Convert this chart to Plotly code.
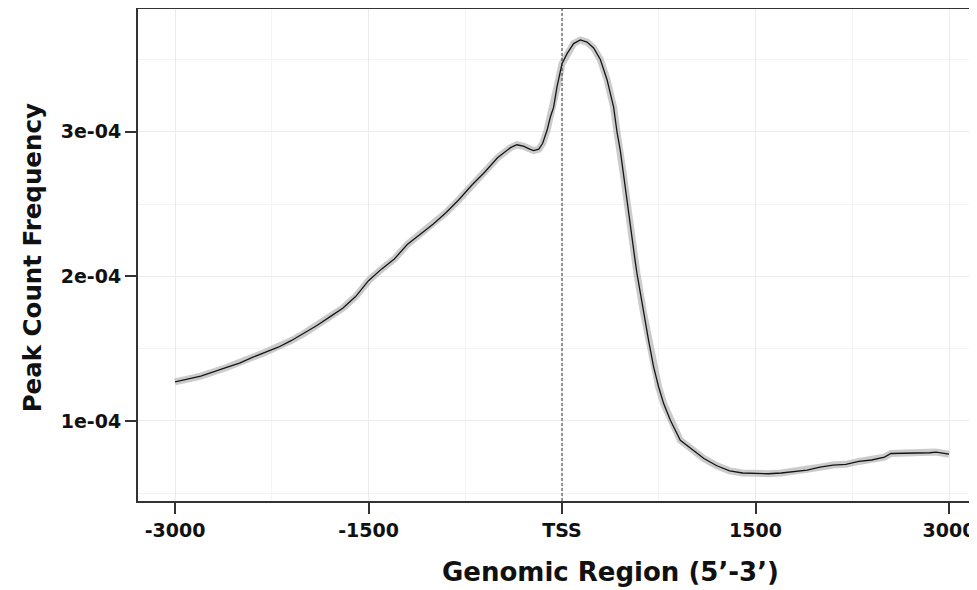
import plotly.graph_objects as go

# distance from TSS (bp) and peak count frequency (units of 1e-4)
positions = [-3000, -2900, -2800, -2600, -2500, -2400, -2300, -2200, -2100, -2000,
             -1900, -1800, -1700, -1600, -1500, -1400, -1300, -1200, -1100, -1000,
             -900, -800, -700, -600, -500, -400, -350, -300, -250, -220, -180, -150,
             -116, -91, -65, -39, 0, 39, 90, 142, 194, 245, 297, 349, 400, 426, 452,
             478, 516, 543, 568, 581, 633, 671, 710, 749, 788, 840, 917, 1000, 1100,
             1200, 1300, 1400, 1500, 1600, 1700, 1800, 1900, 2000, 2100, 2200, 2300,
             2400, 2500, 2550, 2700, 2850, 2900, 3000]
frequency = [1.27, 1.29, 1.31, 1.37, 1.40, 1.44, 1.475, 1.51, 1.555, 1.605,
             1.66, 1.72, 1.78, 1.86, 1.97, 2.05, 2.12, 2.22, 2.29, 2.36,
             2.44, 2.53, 2.63, 2.72, 2.82, 2.89, 2.91, 2.90, 2.88, 2.87, 2.88, 2.92,
             3.01, 3.10, 3.17, 3.31, 3.47, 3.54, 3.61, 3.635, 3.62, 3.58, 3.50, 3.36, 3.17, 3.00, 2.87,
             2.69, 2.44, 2.25, 2.10, 2.02, 1.743, 1.558, 1.374, 1.235, 1.12, 1.005, 0.866, 0.81, 0.74,
             0.69, 0.655, 0.64, 0.635, 0.635, 0.64, 0.65, 0.66, 0.68, 0.695, 0.70, 0.72,
             0.73, 0.75, 0.775, 0.775, 0.78, 0.785, 0.77]
frequency = [f * 1e-4 for f in frequency]

x_ticks = [-3000, -1500, 0, 1500, 3000]
x_labels = ['-3000', '-1500', 'TSS', '1500', '3000']
y_ticks = [1e-4, 2e-4, 3e-4]
y_labels = ['1e-04', '2e-04', '3e-04']

fig = go.Figure()

# grey confidence ribbon, then the profile line on top
fig.add_trace(go.Scatter(x=positions, y=frequency, mode='lines',
                         line=dict(color='rgba(185,185,185,0.75)', width=7),
                         hoverinfo='skip', showlegend=False))
fig.add_trace(go.Scatter(x=positions, y=frequency, mode='lines',
                         line=dict(color='#151515', width=1.3), showlegend=False))

fig.add_shape(type='line', xref='x', yref='paper', x0=0, x1=0, y0=0, y1=1,
              line=dict(color='#333333', width=1, dash='3px,2px'))

tickfont = dict(family='DejaVu Sans', size=19, color='#111111', weight='bold')

# page body adds an 8px margin, so the figure is 8px smaller than the window
fig.update_layout(
    width=969, height=582,
    margin=dict(l=130, r=0, t=1, b=89),
    plot_bgcolor='white', paper_bgcolor='white',
    xaxis=dict(
        range=[-3287, 3217],
        tickmode='array', tickvals=x_ticks, ticktext=x_labels,
        ticks='outside', ticklen=11, tickwidth=1.5, tickcolor='#333333',
        showline=True, linecolor='#333333', linewidth=2, mirror=True,
        showgrid=True, gridcolor='#ececec', gridwidth=1,
        minor=dict(tickmode='linear', tick0=0, dtick=750, showgrid=True,
                   gridcolor='#f4f4f4', ticks=''),
        zeroline=False, tickfont=tickfont,
    ),
    yaxis=dict(
        range=[0.4464e-4, 3.849e-4],
        tickmode='array', tickvals=y_ticks, ticktext=y_labels,
        ticks='outside', ticklen=11, tickwidth=1.5, tickcolor='#333333',
        showline=True, linecolor='#333333', linewidth=2, mirror=False,
        showgrid=True, gridcolor='#ececec', gridwidth=1,
        minor=dict(tickmode='linear', tick0=0, dtick=0.5e-4, showgrid=True,
                   gridcolor='#f4f4f4', ticks=''),
        zeroline=False, tickfont=tickfont,
    ),
)

annotations = []
annotations.append(dict(xref='paper', yref='paper', x=0.5637, y=-0.145,
                        xanchor='center', yanchor='middle', showarrow=False,
                        text='Genomic Region (5\u2019-3\u2019)',
                        font=dict(family='DejaVu Sans', size=26, color='#111111', weight='bold')))
annotations.append(dict(xref='paper', yref='paper', x=-0.1255, y=0.4946,
                        xanchor='center', yanchor='middle', showarrow=False, textangle=-90,
                        text='Peak Count Frequency',
                        font=dict(family='DejaVu Sans', size=24.5, color='#111111', weight='bold')))
fig.update_layout(annotations=annotations)

fig.write_html("out.html")
